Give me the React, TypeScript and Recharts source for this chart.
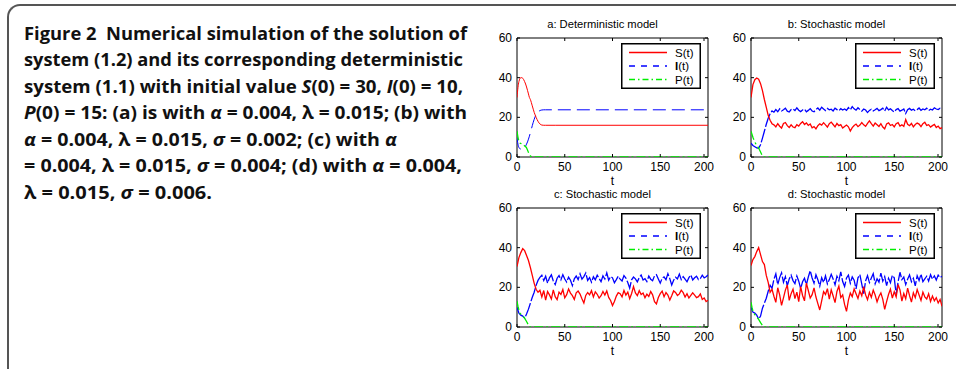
import { Legend, Line, LineChart, ReferenceArea, XAxis, YAxis } from 'recharts'

// layout of one MATLAB-style subplot
const PLOT_W = 191
const PLOT_H = 119
const Y_AXIS_W = 37
const TOP_PAD = 28
const RIGHT_PAD = 8
const X_AXIS_H = 33
const CHART_W = Y_AXIS_W + PLOT_W + RIGHT_PAD
const CHART_H = TOP_PAD + PLOT_H + X_AXIS_H

const X_TICKS = [0, 50, 100, 150, 200]
const Y_TICKS = [0, 20, 40, 60]

const RED = '#ff0000'
const BLUE = '#0000ff'
const GREEN = '#00ee00'

// (a) deterministic model
const DET_T = [0, 1, 2, 3, 4, 5, 6, 7, 8, 9, 10, 11, 12, 13, 14, 15, 16, 17, 18, 19, 20, 21, 22, 23, 24, 25, 26, 28, 30, 40, 200]
const DET_S = [30, 35, 38, 39.5, 40, 40, 39.7, 39, 38, 36.8, 35.3, 33.6, 31.8, 30, 29, 27.5, 25.8, 24.1, 22.5, 21.2, 20, 18.9, 18, 17.2, 16.7, 16.3, 16.1, 16, 16, 16, 16]
const DET_I = [10, 6.5, 4.8, 4.2, 4, 4, 4.1, 4.3, 4.8, 5.5, 6.5, 7.6, 9, 10.5, 12.2, 14, 15.8, 17.5, 19, 20.3, 21.3, 22.1, 22.7, 23.1, 23.4, 23.6, 23.7, 23.8, 23.8, 23.8, 23.8]
const DET_P_T = [0, 1, 2, 3, 4, 5, 6, 7, 8, 9, 10, 11, 12, 13, 14, 15, 16, 200]
const DET_P = [13, 10, 8, 7, 6.8, 6.6, 6.4, 6, 5.6, 5.2, 4.6, 3.5, 2.3, 1.3, 0.6, 0.2, 0, 0]

// stochastic runs sampled every 2 time units
const ST_T = Array.from({ length: 101 }, (_, i) => i * 2)

const B_S = [
  30, 36.5, 39, 39.8, 39.2, 37, 33.5, 29, 25, 21, 18.5, 16.8, 16.2,
  15.2, 16.8, 15.5, 14.6, 16.9, 17.4, 15.8, 14.9, 16.2, 15.1,
  14.8, 16.3, 15.6, 16.9, 17.8, 16.4, 17.2, 15.9, 16.6, 14.7,
  15.3, 14.2, 15.8, 16.7, 16.1, 17.3, 16.2, 15.1, 16.8, 17.6,
  16.4, 15.2, 16.9, 15.8, 16.3, 14.6, 15.4, 16.1, 15.2, 13.1,
  14.8, 15.9, 16.6, 15.3, 16.1, 17.4, 16.2, 15.5, 16.9, 18.2,
  16.8, 15.6, 17.1, 16.3, 15.4, 16.8, 15.1, 14.2, 16.7, 17.2,
  15.9, 16.4, 15.2, 16.8, 17.3, 15.6, 16.2, 15.4, 18.9, 16.5,
  15.8, 16.9, 15.2, 16.4, 17.1, 16.6, 15.3, 16.8, 17.5, 15.9,
  16.3, 15.1, 15.8, 16.4, 14.9, 15.6, 14.3, 14.8,
]
const B_I = [
  7, 5.8, 5.2, 4.6, 4.4, 6.2, 9.5, 13, 16.5, 19.5, 21.8, 23.2, 22.6,
  23.9, 22.8, 24.3, 23.2, 23.8, 24.6, 23.1, 22.7, 23.9, 24.2,
  23.4, 24.8, 23.6, 22.9, 23.7, 24.1, 22.8, 23.5, 24.4, 23.2,
  22.8, 23.9, 24.7, 23.6, 25.1, 24.2, 23.4, 24.5, 23.8, 24.1,
  23.2, 24.6, 23.9, 23.3, 24.4, 23.7, 24.2, 23.5, 24.9, 23.8,
  25.4, 24.3, 23.6, 24.8, 23.9, 23.1, 24.2, 23.7, 22.4, 23.5,
  24.1, 23.2, 23.8, 24.5, 23.4, 23.9, 24.6, 23.2, 25.1, 23.8,
  24.3, 23.4, 22.7, 23.9, 24.4, 23.1, 23.6, 24.2, 21.9, 23.8,
  24.5, 23.6, 24.1, 23.3, 23.9, 24.7, 23.5, 24.2, 23.8, 24.6,
  23.4, 24.1, 23.7, 24.8, 24.2, 23.9, 24.6, 24.3,
]
const B_P_T = [0, 2, 4, 6, 8, 10, 12, 13, 200]
const B_P = [13, 10, 7.5, 5.8, 4.5, 2.5, 0.5, 0, 0]

const C_S = [
  30.5, 35, 37.5, 39.5, 38.5, 36, 33.5, 30, 26, 22, 19, 17.5, 18.5,
  15.2, 18.4, 13.6, 17.9, 16.2, 14.1, 18.7, 15.3, 13.8, 17.6,
  16.4, 18.9, 14.7, 16.3, 19.2, 17.1, 15.8, 13.9, 17.2, 18.1,
  16.6, 14.2, 12.1, 15.9, 17.4, 16.2, 18.3, 15.1, 17.7, 16.5,
  14.6, 15.8, 17.9, 16.1, 18.2, 14.9, 13.4, 10.8, 12.9, 15.6,
  17.3, 16.8, 15.2, 18.4, 16.1, 17.6, 14.3, 16.9, 20.4, 17.2,
  15.8, 18.3, 16.4, 17.1, 14.8, 16.6, 15.4, 17.9, 16.2, 12.8,
  11.6, 14.9, 16.8, 18.1, 15.3, 17.4, 16.1, 13.6, 15.8, 18.2,
  17.4, 15.9, 16.7, 18.6, 17.3, 15.1, 16.8, 14.6, 15.9, 17.2,
  16.1, 14.8, 15.3, 16.7, 13.9, 14.6, 12.8, 13.5,
]
const C_I = [
  10, 7, 6, 5.5, 4.5, 6.5, 9, 12, 15, 17.5, 21, 23.5, 25,
  26.1, 23.4, 25.6, 22.1, 24.8, 26.3, 23.2, 21.4, 24.6, 25.9,
  23.8, 26.4, 24.2, 22.7, 25.1, 23.6, 20.9, 24.3, 25.7, 23.9,
  26.8, 24.1, 25.4, 27.2, 23.5, 24.9, 22.6, 25.3, 23.8, 26.1,
  24.5, 22.9, 25.8, 24.2, 27.3, 23.6, 25.4, 24.8, 22.3, 23.9,
  25.6, 24.1, 23.2, 25.9, 24.7, 22.4, 19.6, 23.8, 25.2, 24.3,
  22.8, 24.9, 26.2, 23.7, 24.4, 22.9, 25.7, 24.1, 23.3, 25.8,
  26.4, 24.2, 22.1, 24.6, 25.3, 23.8, 26.9, 24.4, 21.2, 23.6,
  25.1, 24.3, 26.7, 23.9, 25.4, 24.1, 22.8, 24.9, 26.2, 23.7,
  24.8, 25.6, 23.9, 24.4, 26.1, 24.8, 25.3, 26.2,
]
const C_P_T = [0, 1, 2, 3, 4, 6, 8, 10, 12, 13, 200]
const C_P = [13, 10.5, 8.5, 7, 6.5, 5.5, 4.5, 2.8, 1, 0, 0]

const D_S = [
  31, 34, 35.5, 38, 40, 36.5, 33, 31.5, 26, 22.5, 17.5, 19, 15.5,
  12.4, 19.8, 16.2, 10.9, 14.7, 18.6, 21.2, 13.4, 16.8, 19.1,
  14.3, 17.6, 12.8, 20.4, 15.9, 13.2, 22.1, 18.4, 14.6, 16.3,
  19.7, 15.1, 11.8, 8.6, 13.2, 17.8, 16.4, 19.3, 14.1, 18.7,
  15.6, 12.3, 17.9, 20.6, 14.8, 16.2, 11.4, 7.9, 13.6, 17.1,
  15.3, 19.2, 16.8, 14.4, 18.1, 15.7, 20.3, 16.2, 13.8, 17.5,
  14.9, 18.6, 16.1, 12.7, 15.4, 17.2, 13.9, 8.9, 12.8, 16.4,
  19.1, 14.6, 17.8, 15.2, 21.4, 18.7, 13.1, 16.9, 14.2, 19.6,
  15.8, 12.6, 17.3, 14.8, 18.9, 16.1, 13.4, 17.6, 15.2, 14.1,
  16.8, 12.9, 15.6, 13.2, 14.8, 12.1, 13.9, 10.4,
]
const D_I = [
  10, 7.5, 7, 6, 4, 5.5, 9.5, 12, 14.5, 18, 21, 19.5, 24,
  26.8, 21.4, 24.9, 27.3, 22.6, 25.4, 20.8, 24.2, 26.1, 23.4,
  21.9, 25.7, 23.1, 19.4, 22.8, 24.6, 21.3, 25.2, 28.4, 24.7,
  22.1, 26.3, 23.8, 20.6, 24.9, 22.4, 25.8, 21.7, 23.9, 26.6,
  24.2, 21.3, 25.6, 23.4, 27.8, 22.9, 20.4, 24.7, 26.2, 22.1,
  25.3, 23.6, 19.2, 24.8, 26.4, 21.6, 16.8, 23.2, 25.9, 22.4,
  24.7, 26.9, 21.8, 24.3, 22.6, 27.2, 23.1, 25.4, 20.9, 24.6,
  22.3, 26.1, 24.8, 16.4, 22.7, 27.6, 23.9, 25.2, 21.4, 24.1,
  26.3, 22.8, 24.6, 20.7, 25.8, 23.4, 26.7, 22.9, 24.3, 25.6,
  23.2, 26.4, 24.1, 25.8, 23.7, 26.2, 24.9, 25.6,
]
const D_P_T = [0, 1, 2, 3, 4, 6, 8, 10, 12, 13, 200]
const D_P = [12.5, 10, 8, 7, 6.2, 5.2, 3.8, 2.2, 0.8, 0, 0]

type Row = { t: number; S?: number; I?: number; P?: number }

function zipSI(t: number[], s: number[], iv: number[]): Row[] {
  return t.map((tt, k) => ({ t: tt, S: s[k], I: iv[k] }))
}
function zipP(t: number[], p: number[]): Row[] {
  return t.map((tt, k) => ({ t: tt, P: p[k] }))
}

function XTick(props: any) {
  const { x, y, payload } = props
  return (
    <g>
      <line x1={x} y1={y} x2={x} y2={y - 3} stroke="#000" />
      <line x1={x} y1={y - PLOT_H} x2={x} y2={y - PLOT_H + 3} stroke="#000" />
      <text x={x} y={y + 14} textAnchor="middle" fontSize={12} fill="#000">
        {payload.value}
      </text>
    </g>
  )
}

function YTick(props: any) {
  const { x, y, payload } = props
  return (
    <g>
      <line x1={x} y1={y} x2={x + 3} y2={y} stroke="#000" />
      <line x1={x + PLOT_W} y1={y} x2={x + PLOT_W - 3} y2={y} stroke="#000" />
      <text x={x - 5} y={y + 4} textAnchor="end" fontSize={12} fill="#000">
        {payload.value}
      </text>
    </g>
  )
}

function PanelLegend() {
  const rows = [
    { key: 'S', color: RED, dash: undefined as string | undefined, y: 9.5 },
    { key: 'I', color: BLUE, dash: '6 6', y: 23 },
    { key: 'P', color: GREEN, dash: '6 3 1.5 3', y: 36.5 },
  ]
  return (
    <svg width={80} height={46} style={{ display: 'block' }}>
      <rect x={0.75} y={0.75} width={78.5} height={44.5} fill="#fff" stroke="#000" strokeWidth={1.5} />
      {rows.map((r) => (
        <g key={r.key}>
          <line x1={8} x2={46} y1={r.y} y2={r.y} stroke={r.color} strokeWidth={1.3} strokeDasharray={r.dash} />
          <text x={54} y={r.y + 4} fontSize={11.5} fill="#000">
            {r.key === 'I' ? <tspan fontWeight="bold">I</tspan> : r.key}
            (t)
          </text>
        </g>
      ))}
    </svg>
  )
}

function Panel({
  left,
  top,
  title,
  rows,
  pRows,
  smooth,
}: {
  left: number
  top: number
  title: string
  rows: Row[]
  pRows: Row[]
  smooth: boolean
}) {
  const kind = smooth ? 'monotone' : 'linear'
  const w = smooth ? 1 : 1.3
  return (
    <div style={{ position: 'absolute', left, top, width: CHART_W, height: CHART_H }}>
      <div
        style={{
          position: 'absolute',
          left: Y_AXIS_W - 10,
          top: TOP_PAD - 20,
          width: PLOT_W,
          textAlign: 'center',
          fontSize: 11.2,
          lineHeight: '13px',
        }}
      >
        {title}
      </div>
      <LineChart width={CHART_W} height={CHART_H} data={rows} margin={{ top: TOP_PAD, right: RIGHT_PAD, bottom: 0, left: 0 }}>
        <XAxis
          dataKey="t"
          type="number"
          domain={[0, 200]}
          ticks={X_TICKS}
          allowDataOverflow
          height={X_AXIS_H}
          axisLine={false}
          tickLine={false}
          tickSize={0}
          tickMargin={0}
          tick={XTick}
          label={{ value: 't', position: 'insideBottom', offset: 5, fontSize: 12, fill: '#000' }}
        />
        <YAxis
          type="number"
          domain={[0, 60]}
          ticks={Y_TICKS}
          allowDataOverflow
          width={Y_AXIS_W}
          axisLine={false}
          tickLine={false}
          tickSize={0}
          tickMargin={0}
          tick={YTick}
        />
        <Line
          dataKey="I"
          name="I(t)"
          type={kind}
          stroke={BLUE}
          strokeWidth={w}
          strokeDasharray={smooth ? '13 6' : '14 2'}
          dot={false}
          activeDot={false}
          isAnimationActive={false}
        />
        <Line
          dataKey="S"
          name="S(t)"
          type={kind}
          stroke={RED}
          strokeWidth={w}
          dot={false}
          activeDot={false}
          isAnimationActive={false}
        />
        <Line
          data={pRows}
          dataKey="P"
          name="P(t)"
          type={kind}
          stroke={GREEN}
          strokeWidth={1.3}
          strokeDasharray="9 3 2 3"
          dot={false}
          activeDot={false}
          isAnimationActive={false}
        />
        <ReferenceArea x1={0} x2={200} y1={0} y2={60} fill="none" stroke="#000" strokeWidth={1} ifOverflow="visible" />
        <Legend
          layout="horizontal"
          verticalAlign="middle"
          align="center"
          wrapperStyle={{ left: Y_AXIS_W + PLOT_W - 7 - 80, top: TOP_PAD + 5, width: 80, height: 46 }}
          content={() => <PanelLegend />}
        />
      </LineChart>
    </div>
  )
}

const CAPTION_X = 24
const CAPTION_BASE = 39.5
const CAPTION_STEP = 26.5

function Caption() {
  const it = (s: string) => <tspan fontStyle="italic">{s}</tspan>
  const lines: { w: number; body: React.ReactNode }[] = [
    { w: 443, body: <>Figure 2{'  '}Numerical simulation of the solution of</> },
    { w: 439, body: <>system (1.2) and its corresponding deterministic</> },
    { w: 439, body: <>system (1.1) with initial value {it('S')}(0) = 30, {it('I')}(0) = 10,</> },
    { w: 443, body: <>{it('P')}(0) = 15: (a) is with {it('α')} = 0.004, λ = 0.015; (b) with</> },
    { w: 373, body: <>{it('α')} = 0.004, λ = 0.015, {it('σ')} = 0.002; (c) with {it('α')}</> },
    { w: 438, body: <>= 0.004, λ = 0.015, {it('σ')} = 0.004; (d) with {it('α')} = 0.004,</> },
    { w: 188, body: <>λ = 0.015, {it('σ')} = 0.006.</> },
  ]
  return (
    <svg width={956} height={369} style={{ position: 'absolute', left: 0, top: 0 }}>
      {lines.map((l, k) => (
        <text
          key={k}
          x={CAPTION_X}
          y={CAPTION_BASE + k * CAPTION_STEP}
          textLength={l.w}
          lengthAdjust="spacingAndGlyphs"
          fontFamily="'Open Sans', 'Noto Sans', sans-serif"
          fontWeight="bold"
          fontSize={18.5}
          fill="#111"
          style={{ whiteSpace: 'pre' }}
        >
          {l.body}
        </text>
      ))}
    </svg>
  )
}

export default function App() {
  return (
    <div
      style={{
        position: 'absolute',
        left: 0,
        top: 0,
        width: 956,
        height: 369,
        background: '#fff',
        fontFamily: "'Liberation Sans', Arial, sans-serif",
        overflow: 'hidden',
      }}
    >
      {/* rounded figure frame; its bottom edge falls just below the crop */}
      <div
        style={{
          position: 'absolute',
          left: 7,
          top: 4,
          width: 1000,
          height: 368,
          borderTop: '2px solid #555',
          borderLeft: '2px solid #555',
          borderBottom: '2px solid #555',
          borderTopLeftRadius: 13,
          borderBottomLeftRadius: 8,
        }}
      />
      <Caption />
      <Panel
        left={517 - Y_AXIS_W}
        top={38 - TOP_PAD}
        title="a: Deterministic model"
        rows={zipSI(DET_T, DET_S, DET_I)}
        pRows={zipP(DET_P_T, DET_P)}
        smooth
      />
      <Panel
        left={751 - Y_AXIS_W}
        top={38 - TOP_PAD}
        title="b: Stochastic model"
        rows={zipSI(ST_T, B_S, B_I)}
        pRows={zipP(B_P_T, B_P)}
        smooth={false}
      />
      <Panel
        left={517 - Y_AXIS_W}
        top={208 - TOP_PAD}
        title="c: Stochastic model"
        rows={zipSI(ST_T, C_S, C_I)}
        pRows={zipP(C_P_T, C_P)}
        smooth={false}
      />
      <Panel
        left={751 - Y_AXIS_W}
        top={208 - TOP_PAD}
        title="d: Stochastic model"
        rows={zipSI(ST_T, D_S, D_I)}
        pRows={zipP(D_P_T, D_P)}
        smooth={false}
      />
    </div>
  )
}
